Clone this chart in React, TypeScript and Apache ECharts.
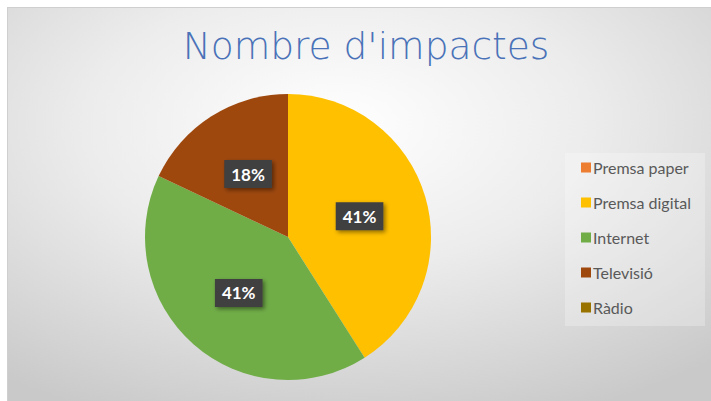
import React, { useEffect, useRef } from "react";
import * as echarts from "echarts";

const titleText = "Nombre d'impactes";
const categories = ["Premsa paper", "Premsa digital", "Internet", "Televisió", "Ràdio"];
const values = [0, 41, 41, 18, 0];
const colors = ["#ED7D31", "#FFC000", "#70AD47", "#9E480E", "#997300"];

export default function App() {
  const ref = useRef<HTMLDivElement>(null);
  useEffect(() => {
    if (!ref.current) return;
    const chart = echarts.init(ref.current, undefined, { renderer: "svg" });
    const data = categories.map((name, i) => ({
      name,
      value: values[i],
      itemStyle: { color: colors[i] },
      label: { show: values[i] > 0 },
    }));
    chart.setOption({
      animation: false,
      backgroundColor: "#ffffff",
      title: {
        text: titleText,
        left: 361,
        textAlign: "center",
        top: 22,
        textStyle: {
          fontFamily: "'DejaVu Sans', sans-serif",
          fontWeight: 200,
          fontSize: 37.5,
          color: "#4A72B8",
        },
      },
      graphic: [
        {
          type: "rect",
          z: -10,
          silent: true,
          shape: { x: 7, y: 7, width: 704, height: 394 },
          style: {
            fill: new echarts.graphic.RadialGradient(0.47, 0.3, 0.8, [
              { offset: 0, color: "#ffffff" },
              { offset: 0.45, color: "#ececec" },
              { offset: 1, color: "#c9c9c9" },
            ]),
          },
        },
        {
          type: "line",
          z: -9,
          silent: true,
          shape: { x1: 7, y1: 7.5, x2: 711, y2: 7.5 },
          style: { stroke: "#cfcfcf", lineWidth: 1 },
        },
        {
          type: "line",
          z: -9,
          silent: true,
          shape: { x1: 7.5, y1: 7, x2: 7.5, y2: 401 },
          style: { stroke: "#cfcfcf", lineWidth: 1 },
        },
        {
          type: "rect",
          z: -8,
          silent: true,
          shape: { x: 565, y: 153, width: 140, height: 173 },
          style: { fill: "rgba(255,255,255,0.25)" },
        },
      ],
      legend: {
        orient: "vertical",
        left: 576,
        top: 153,
        itemWidth: 10,
        itemHeight: 10,
        itemGap: 16,
        icon: "rect",
        data: categories,
        textStyle: {
          fontFamily: "Lato, sans-serif",
          fontSize: 16,
          color: "#595959",
          lineHeight: 19,
          padding: [0, 0, 0, -3],
        },
      },
      series: [
        {
          type: "pie",
          center: [288, 237],
          radius: 143,
          startAngle: 90,
          clockwise: true,
          avoidLabelOverlap: false,
          itemStyle: { borderWidth: 0 },
          label: {
            position: "inside",
            formatter: (p: any) => Math.round(p.percent) + "%",
            fontFamily: "Lato, sans-serif",
            fontWeight: "bold",
            fontSize: 17,
            color: "#ffffff",
            backgroundColor: "#404040",
            padding: [6, 7, 5, 7],
            shadowBlur: 4,
            shadowColor: "rgba(0,0,0,0.45)",
            shadowOffsetX: 2,
            shadowOffsetY: 2,
          },
          labelLine: { show: false },
          emphasis: { disabled: true },
          data,
        },
      ],
    });
    return () => chart.dispose();
  }, []);
  return (
    <div
      ref={ref}
      style={{ position: "fixed", left: 0, top: 0, width: 711, height: 401 }}
    />
  );
}
